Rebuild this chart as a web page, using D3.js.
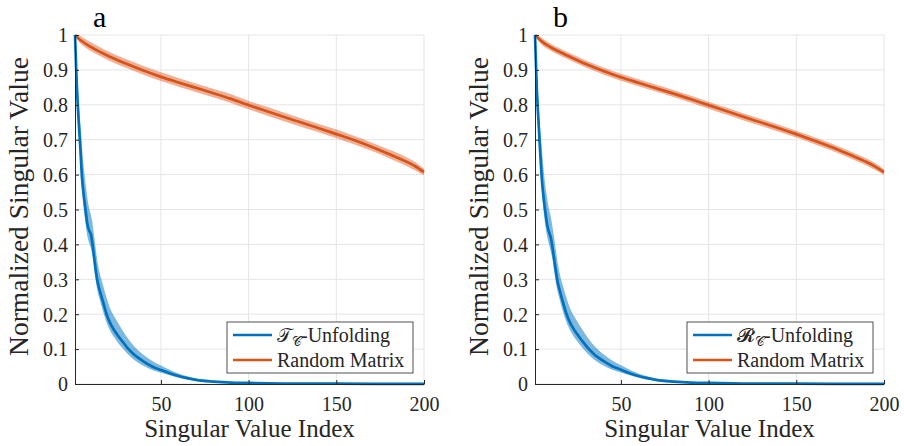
<!DOCTYPE html>
<html><head><meta charset="utf-8">
<script src="https://cdn.jsdelivr.net/npm/d3@7"></script>
<style>body{margin:0;background:#fff}svg{display:block}</style>
</head><body>
<svg id="c" width="904" height="446"></svg>
<script>
// ---- data ----
const xTicks = [50, 100, 150, 200];
const yTicks = [0, 0.1, 0.2, 0.3, 0.4, 0.5, 0.6, 0.7, 0.8, 0.9, 1];
const yTickLabels = ["0","0.1","0.2","0.3","0.4","0.5","0.6","0.7","0.8","0.9","1"];

const blueIdxA  = [1,2,3,4,5,6,7,8,9,10,11,12,13,14,15,17,19,21,23,25,28,31,35,40,45,50,55,60,65,70,80,90,100,120,150,200];
const blueMeanA = [1.0,0.86,0.76,0.68,0.59,0.54,0.50,0.46,0.44,0.43,0.40,0.36,0.32,0.29,0.27,0.235,0.20,0.175,0.157,0.142,0.122,0.103,0.083,0.065,0.050,0.040,0.031,0.023,0.017,0.012,0.007,0.004,0.003,0.0015,0.0008,0.0003];
const blueHighA = [1.0,0.90,0.82,0.75,0.68,0.62,0.575,0.535,0.505,0.485,0.46,0.42,0.38,0.345,0.32,0.283,0.247,0.217,0.197,0.18,0.155,0.132,0.107,0.084,0.066,0.053,0.041,0.030,0.022,0.016,0.009,0.005,0.0035,0.0018,0.0009,0.0003];
const blueLowA  = [1.0,0.84,0.73,0.64,0.56,0.50,0.46,0.425,0.405,0.39,0.365,0.325,0.29,0.262,0.243,0.208,0.176,0.153,0.136,0.122,0.103,0.086,0.068,0.052,0.040,0.032,0.025,0.018,0.013,0.009,0.005,0.003,0.0025,0.0012,0.0007,0.0003];

const blueIdxB  = [1,2,3,4,5,6,7,8,9,10,11,12,13,14,15,17,19,21,23,25,28,31,35,40,45,50,55,60,65,70,80,90,100,120,150,200];
const blueMeanB = [1.0,0.85,0.75,0.66,0.58,0.53,0.49,0.455,0.435,0.42,0.39,0.355,0.32,0.29,0.27,0.233,0.20,0.176,0.158,0.143,0.123,0.104,0.084,0.066,0.051,0.041,0.031,0.023,0.017,0.012,0.007,0.004,0.003,0.0015,0.0008,0.0003];
const blueHighB = [1.0,0.89,0.81,0.73,0.67,0.61,0.565,0.53,0.50,0.48,0.45,0.415,0.38,0.345,0.318,0.28,0.246,0.217,0.197,0.18,0.156,0.133,0.108,0.085,0.067,0.054,0.041,0.030,0.022,0.016,0.009,0.005,0.0035,0.0018,0.0009,0.0003];
const blueLowB  = [1.0,0.83,0.72,0.625,0.55,0.49,0.45,0.42,0.40,0.38,0.355,0.32,0.287,0.262,0.243,0.206,0.176,0.154,0.137,0.123,0.104,0.087,0.069,0.053,0.041,0.033,0.025,0.018,0.013,0.009,0.005,0.003,0.0025,0.0012,0.0007,0.0003];

const orangeIdx   = [1,3,5,10,20,30,40,50,60,75,90,100,110,125,140,150,160,170,180,190,195,200];
const orangeMeanA = [1.0,0.99,0.982,0.966,0.94,0.918,0.898,0.880,0.864,0.841,0.817,0.799,0.782,0.757,0.733,0.716,0.699,0.680,0.659,0.637,0.624,0.607];
const orangeHighA = [1.0,1.0,0.994,0.979,0.953,0.931,0.911,0.893,0.877,0.853,0.830,0.811,0.795,0.769,0.745,0.729,0.711,0.692,0.672,0.650,0.636,0.617];
const orangeLowA  = [1.0,0.982,0.971,0.954,0.928,0.906,0.886,0.868,0.852,0.829,0.805,0.787,0.770,0.745,0.721,0.704,0.687,0.668,0.647,0.625,0.612,0.598];
const orangeMeanB = [1.0,0.99,0.981,0.965,0.940,0.917,0.897,0.879,0.863,0.840,0.816,0.799,0.782,0.757,0.733,0.716,0.698,0.679,0.658,0.636,0.623,0.607];
const orangeHighB = [1.0,0.998,0.991,0.975,0.950,0.927,0.907,0.889,0.873,0.850,0.826,0.809,0.792,0.767,0.743,0.726,0.708,0.689,0.668,0.646,0.633,0.615];
const orangeLowB  = [1.0,0.983,0.971,0.955,0.930,0.907,0.887,0.869,0.853,0.830,0.806,0.789,0.772,0.747,0.723,0.706,0.688,0.669,0.648,0.626,0.613,0.599];

const panels = [
  {label:"a", x0:75, x1:424, legendMain:"\u{1D4AF}", blue:[blueIdxA,blueMeanA,blueLowA,blueHighA], orange:[orangeIdx,orangeMeanA,orangeLowA,orangeHighA]},
  {label:"b", x0:535, x1:884, legendMain:"\u{1D4E1}", blue:[blueIdxB,blueMeanB,blueLowB,blueHighB], orange:[orangeIdx,orangeMeanB,orangeLowB,orangeHighB]}
];
const legendNames = ["-Unfolding", "Random Matrix"];
const BLUE = "#0072BD", ORANGE = "#D95319";
const FONT = "'Liberation Serif', 'Times New Roman', serif";

const svg = d3.select("#c");
const yTop = 35, yBot = 384;

panels.forEach((p, pi) => {
  const x = d3.scaleLinear().domain([1,200]).range([p.x0, p.x1]);
  const y = d3.scaleLinear().domain([0,1]).range([yBot, yTop]);
  const g = svg.append("g");

  // grid
  g.selectAll(".gy").data(yTicks).enter().append("line")
    .attr("x1", p.x0).attr("x2", p.x1).attr("y1", d=>y(d)).attr("y2", d=>y(d))
    .attr("stroke", "#e5e5e5").attr("stroke-width", 1);
  g.selectAll(".gx").data(xTicks).enter().append("line")
    .attr("x1", d=>x(d)).attr("x2", d=>x(d)).attr("y1", yTop).attr("y2", yBot)
    .attr("stroke", "#e5e5e5").attr("stroke-width", 1);

  const drawSeries = (s, color, bandOp) => {
    const [idx, mean, lo, hi] = s;
    const pts = idx.map((d,i)=>({i:d, m:mean[i], l:lo[i], h:hi[i]}));
    g.append("path").datum(pts)
      .attr("d", d3.area().x(d=>x(d.i)).y0(d=>y(d.l)).y1(d=>y(d.h)).curve(d3.curveMonotoneX))
      .attr("fill", color).attr("opacity", bandOp);
    g.append("path").datum(pts)
      .attr("d", d3.line().x(d=>x(d.i)).y(d=>y(d.m)).curve(d3.curveMonotoneX))
      .attr("fill", "none").attr("stroke", color).attr("stroke-width", 2.7);
  };
  drawSeries(p.orange, ORANGE, 0.45);
  drawSeries(p.blue, BLUE, 0.5);

  // axes
  const ax = g.append("g").attr("transform", `translate(0,${yBot})`)
    .call(d3.axisBottom(x).tickValues(xTicks).tickSizeInner(-4).tickSizeOuter(0).tickPadding(13));
  const ay = g.append("g").attr("transform", `translate(${p.x0},0)`)
    .call(d3.axisLeft(y).tickValues(yTicks).tickFormat((d,i)=>yTickLabels[i]).tickSizeInner(-4).tickSizeOuter(0).tickPadding(7));
  [ax, ay].forEach(a => {
    a.attr("font-family", null).attr("font-size", null);
    a.select(".domain").attr("stroke", "#262626").attr("stroke-width", 1);
    a.selectAll(".tick line").attr("stroke", "#262626");
    a.selectAll(".tick text").attr("fill", "#262626").attr("font-family", FONT).attr("font-size", 20);
  });
  ax.selectAll(".tick text").attr("dy", "0.71em");
  ay.selectAll(".tick text").attr("dy", "0.34em");

  // axis titles
  g.append("text").attr("x", (p.x0+p.x1)/2).attr("y", 437).attr("text-anchor","middle")
    .attr("font-family", FONT).attr("font-size", 25).attr("fill","#262626").text("Singular Value Index");
  g.append("text").attr("transform", `translate(${p.x0-47},${(yTop+yBot)/2 - 3}) rotate(-90)`).attr("text-anchor","middle")
    .attr("font-family", FONT).attr("font-size", 27.5).attr("fill","#262626").text("Normalized Singular Value");

  // panel label
  g.append("text").attr("x", p.x0+18).attr("y", 27).attr("font-family", FONT).attr("font-size", 30)
    .attr("fill","#000").text(p.label);

  // legend
  const lx = p.x1 - 197, ly = 322, lw = 186, lh = 51;
  const lg = g.append("g");
  lg.append("rect").attr("x", lx).attr("y", ly).attr("width", lw).attr("height", lh)
    .attr("fill","#fff").attr("stroke","#262626").attr("stroke-width",0.8);
  [[BLUE,0],[ORANGE,1]].forEach(([c,k]) => {
    const yy = ly + 13 + k*25;
    lg.append("line").attr("x1", lx+6).attr("x2", lx+45).attr("y1", yy).attr("y2", yy)
      .attr("stroke", c).attr("stroke-width", 2.5);
    const t = lg.append("text").attr("x", lx+50).attr("y", yy+6.5)
      .attr("font-family", FONT).attr("font-size", 20).attr("fill","#262626");
    if (k === 0) {
      t.append("tspan").attr("font-family","'DejaVu Sans', serif").attr("font-size", 19).text(p.legendMain);
      t.append("tspan").attr("dy", 4).attr("font-size", 13).attr("font-family","'DejaVu Sans', serif").text("\u{1D49E}");
      t.append("tspan").attr("dy", -4).text(legendNames[0]);
    } else {
      t.text(legendNames[1]);
    }
  });
});
</script>
</body></html>
